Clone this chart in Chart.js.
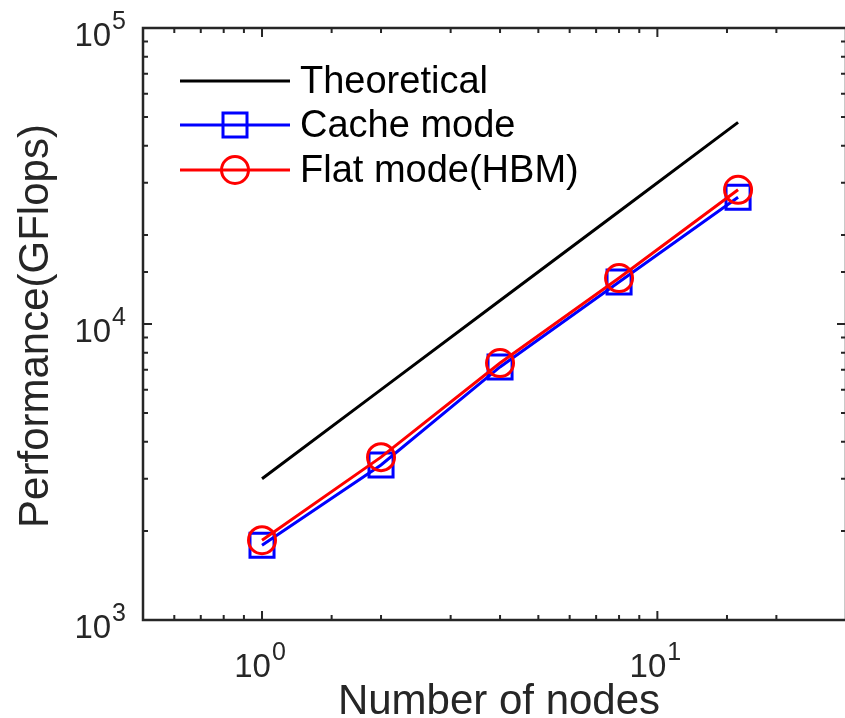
<!DOCTYPE html>
<html>
<head>
<meta charset="utf-8">
<script src="https://cdn.jsdelivr.net/npm/chart.js@4.4.1/dist/chart.umd.min.js"></script>
<style>
  html, body { margin:0; padding:0; background:#fff; overflow:hidden; }
  canvas { display:block; }
</style>
</head>
<body>
<canvas id="perf" width="880" height="718"></canvas>
<script>
// values
const nodes = [1, 2, 4, 8, 16];
const theoretical = [3000, 6000, 12000, 24000, 48000];
const cacheMode = [1790, 3340, 7160, 13870, 26800];
const flatMode = [1860, 3550, 7380, 14300, 28400];

const seriesNames = ['Theoretical', 'Cache mode', 'Flat mode(HBM)'];
const xTickExp = [0, 1];
const yTickExp = [3, 4, 5];
const xTitle = 'Number of nodes';
const yTitle = 'Performance(GFlops)';

const FONT = '"Liberation Sans", Arial, Helvetica, sans-serif';
const AX = '#262626';

function pts(ys){ return nodes.map((n,i)=>({x:n, y:ys[i]})); }

// "10" with a raised exponent, drawn as canvas text
function powLabel(ctx, e, x, base, align){
  ctx.font = '33px ' + FONT;
  const w1 = ctx.measureText('10').width;
  ctx.font = '25px ' + FONT;
  const w2 = ctx.measureText(String(e)).width;
  const tot = w1 + w2 + 1;
  let sx = align === 'center' ? x - tot/2 : x - tot;
  ctx.textAlign = 'left';
  ctx.textBaseline = 'alphabetic';
  ctx.font = '33px ' + FONT;
  ctx.fillText('10', sx, base);
  ctx.font = '25px ' + FONT;
  ctx.fillText(String(e), sx + w1 + 1, base - 17);
}

const isMajor = v => Math.abs(Math.log10(v) - Math.round(Math.log10(v))) < 1e-9;

const axesPlugin = {
  id: 'matlabAxes',
  afterDraw(chart){
    const {ctx, chartArea:a, scales:{x, y}} = chart;
    ctx.save();
    ctx.strokeStyle = AX;
    ctx.lineWidth = 2.5;
    ctx.strokeRect(a.left, a.top, a.right - a.left, a.bottom - a.top);

    ctx.lineWidth = 2;
    ctx.beginPath();
    x.ticks.forEach(t=>{
      const px = x.getPixelForValue(t.value);
      if (px <= a.left + 1 || px >= a.right - 1) return;
      const len = isMajor(t.value) ? 9 : 5;
      ctx.moveTo(px, a.bottom); ctx.lineTo(px, a.bottom - len);
      ctx.moveTo(px, a.top); ctx.lineTo(px, a.top + len);
    });
    y.ticks.forEach(t=>{
      const py = y.getPixelForValue(t.value);
      if (py <= a.top + 1 || py >= a.bottom - 1) return;
      const len = isMajor(t.value) ? 9 : 5;
      ctx.moveTo(a.left, py); ctx.lineTo(a.left + len, py);
      ctx.moveTo(a.right, py); ctx.lineTo(a.right - len, py);
    });
    ctx.stroke();

    ctx.fillStyle = AX;
    xTickExp.forEach(e=>{
      powLabel(ctx, e, x.getPixelForValue(Math.pow(10, e)) - 2, a.bottom + 57, 'center');
    });
    yTickExp.forEach(e=>{
      powLabel(ctx, e, a.left - 17, y.getPixelForValue(Math.pow(10, e)) + 18, 'right');
    });

    // axis titles
    ctx.font = '42px ' + FONT;
    ctx.textAlign = 'center';
    ctx.textBaseline = 'alphabetic';
    ctx.fillText(xTitle, 499, a.bottom + 94);
    ctx.save();
    ctx.translate(48, 326);
    ctx.rotate(-Math.PI/2);
    ctx.fillText(yTitle, 0, 0);
    ctx.restore();

    // legend, no box
    const rows = [81, 125, 170];
    chart.data.datasets.forEach((ds, i)=>{
      const ry = rows[i];
      ctx.strokeStyle = ds.borderColor;
      ctx.lineWidth = 3;
      ctx.beginPath();
      ctx.moveTo(180, ry); ctx.lineTo(290, ry);
      ctx.stroke();
      if (ds.pointStyle === 'rect') {
        ctx.strokeRect(235 - 12, ry - 12, 24, 24);
      } else if (ds.pointRadius > 0) {
        ctx.beginPath(); ctx.arc(235, ry, 13.5, 0, Math.PI*2); ctx.stroke();
      }
      ctx.fillStyle = '#000';
      ctx.font = '38px ' + FONT;
      ctx.textAlign = 'left';
      ctx.fillText(ds.label, 300, ry + 12);
    });
    ctx.restore();
  }
};

new Chart(document.getElementById('perf'), {
  type: 'line',
  data: {
    datasets: [
      { label: seriesNames[0], data: pts(theoretical), borderColor: '#000', borderWidth: 3,
        pointRadius: 0, order: 3 },
      { label: seriesNames[1], data: pts(cacheMode), borderColor: '#0000ff', borderWidth: 3,
        pointStyle: 'rect', pointRadius: 17, pointBorderWidth: 3, pointBackgroundColor: 'rgba(0,0,0,0)',
        pointBorderColor: '#0000ff', order: 2 },
      { label: seriesNames[2], data: pts(flatMode), borderColor: '#ff0000', borderWidth: 3,
        pointStyle: 'circle', pointRadius: 13.5, pointBorderWidth: 3, pointBackgroundColor: 'rgba(0,0,0,0)',
        pointBorderColor: '#ff0000', order: 1 }
    ]
  },
  options: {
    responsive: false,
    animation: false,
    layout: { padding: { left: 143, top: 28, right: 34, bottom: 98 } },
    plugins: { legend: { display: false }, tooltip: { enabled: false } },
    elements: { line: { tension: 0 } },
    scales: {
      x: { type: 'logarithmic', min: 0.5, max: 30, display: false },
      y: { type: 'logarithmic', min: 1000, max: 100000, display: false }
    }
  },
  plugins: [axesPlugin]
});
</script>
</body>
</html>
